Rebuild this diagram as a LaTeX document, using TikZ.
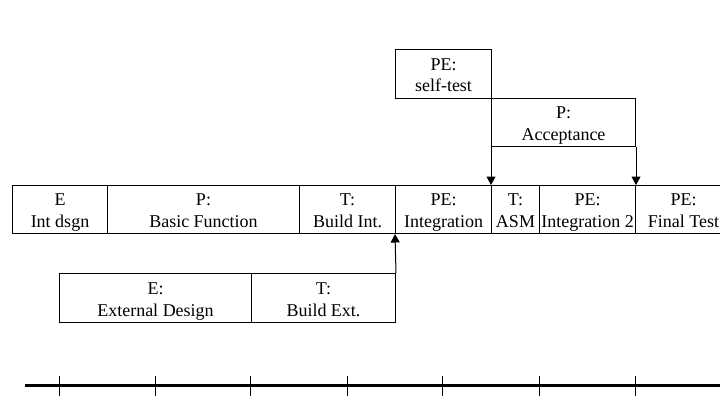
\documentclass[tikz,border=0pt]{standalone}
\usepackage{fontspec}
\setmainfont{Liberation Serif}
\usetikzlibrary{arrows.meta}
\begin{document}
\begin{tikzpicture}[x=1pt,y=-1pt,
  box/.style={draw, line width=1pt, inner sep=0pt, align=center, anchor=north west,
    minimum height=48pt, text height=38pt, text depth=2pt,
    font=\fontsize{18}{21.6}\selectfont},
  link/.style={line width=1pt, -{Triangle[width=9pt,length=8.5pt]}},
  axis/.style={line width=3pt},
  tick/.style={line width=0.8pt}]
\useasboundingbox (0,0) rectangle (720,396);

% phases of the main schedule
\node[box, minimum width=95pt]  (e1)  at (12,185)  {E\\Int dsgn};
\node[box, minimum width=192pt] (p1)  at (107,185) {P:\\Basic Function};
\node[box, minimum width=96pt]  (t1)  at (299,185) {T:\\Build Int.};
\node[box, minimum width=96pt]  (pe1) at (395,185) {PE:\\Integration};
\node[box, minimum width=48pt]  (t2)  at (491,185) {T:\\ASM};
\node[box, minimum width=96pt]  (pe2) at (539,185) {PE:\\Integration 2};
\node[box, minimum width=96pt]  (pe3) at (635,185) {PE:\\Final Test};

% upper branch
\node[box, minimum width=96pt, minimum height=49pt] (st)  at (395,49) {PE:\\self-test};
\node[box, minimum width=144pt] (acc) at (491,98) {P:\\Acceptance};

% lower branch
\node[box, minimum width=192pt, minimum height=49pt] (ext)  at (59,273)  {E:\\External Design};
\node[box, minimum width=144pt, minimum height=49pt] (bext) at (251,273) {T:\\Build Ext.};

% joins into the main schedule
\draw[link] (acc.south west) -- (t2.north west);
\draw[link] (acc.south east) -- (pe2.north east);
\draw[link] (bext.north east) -- (pe1.south west);

% time axis
\coordinate (a0) at (25,385);
\coordinate (a1) at (725,385);
\draw[axis] (a0) -- (a1);
\foreach \x in {59,155,250,347,442,539,635}
  \draw[tick] (\x,376) -- (\x,397);
\end{tikzpicture}
\end{document}
